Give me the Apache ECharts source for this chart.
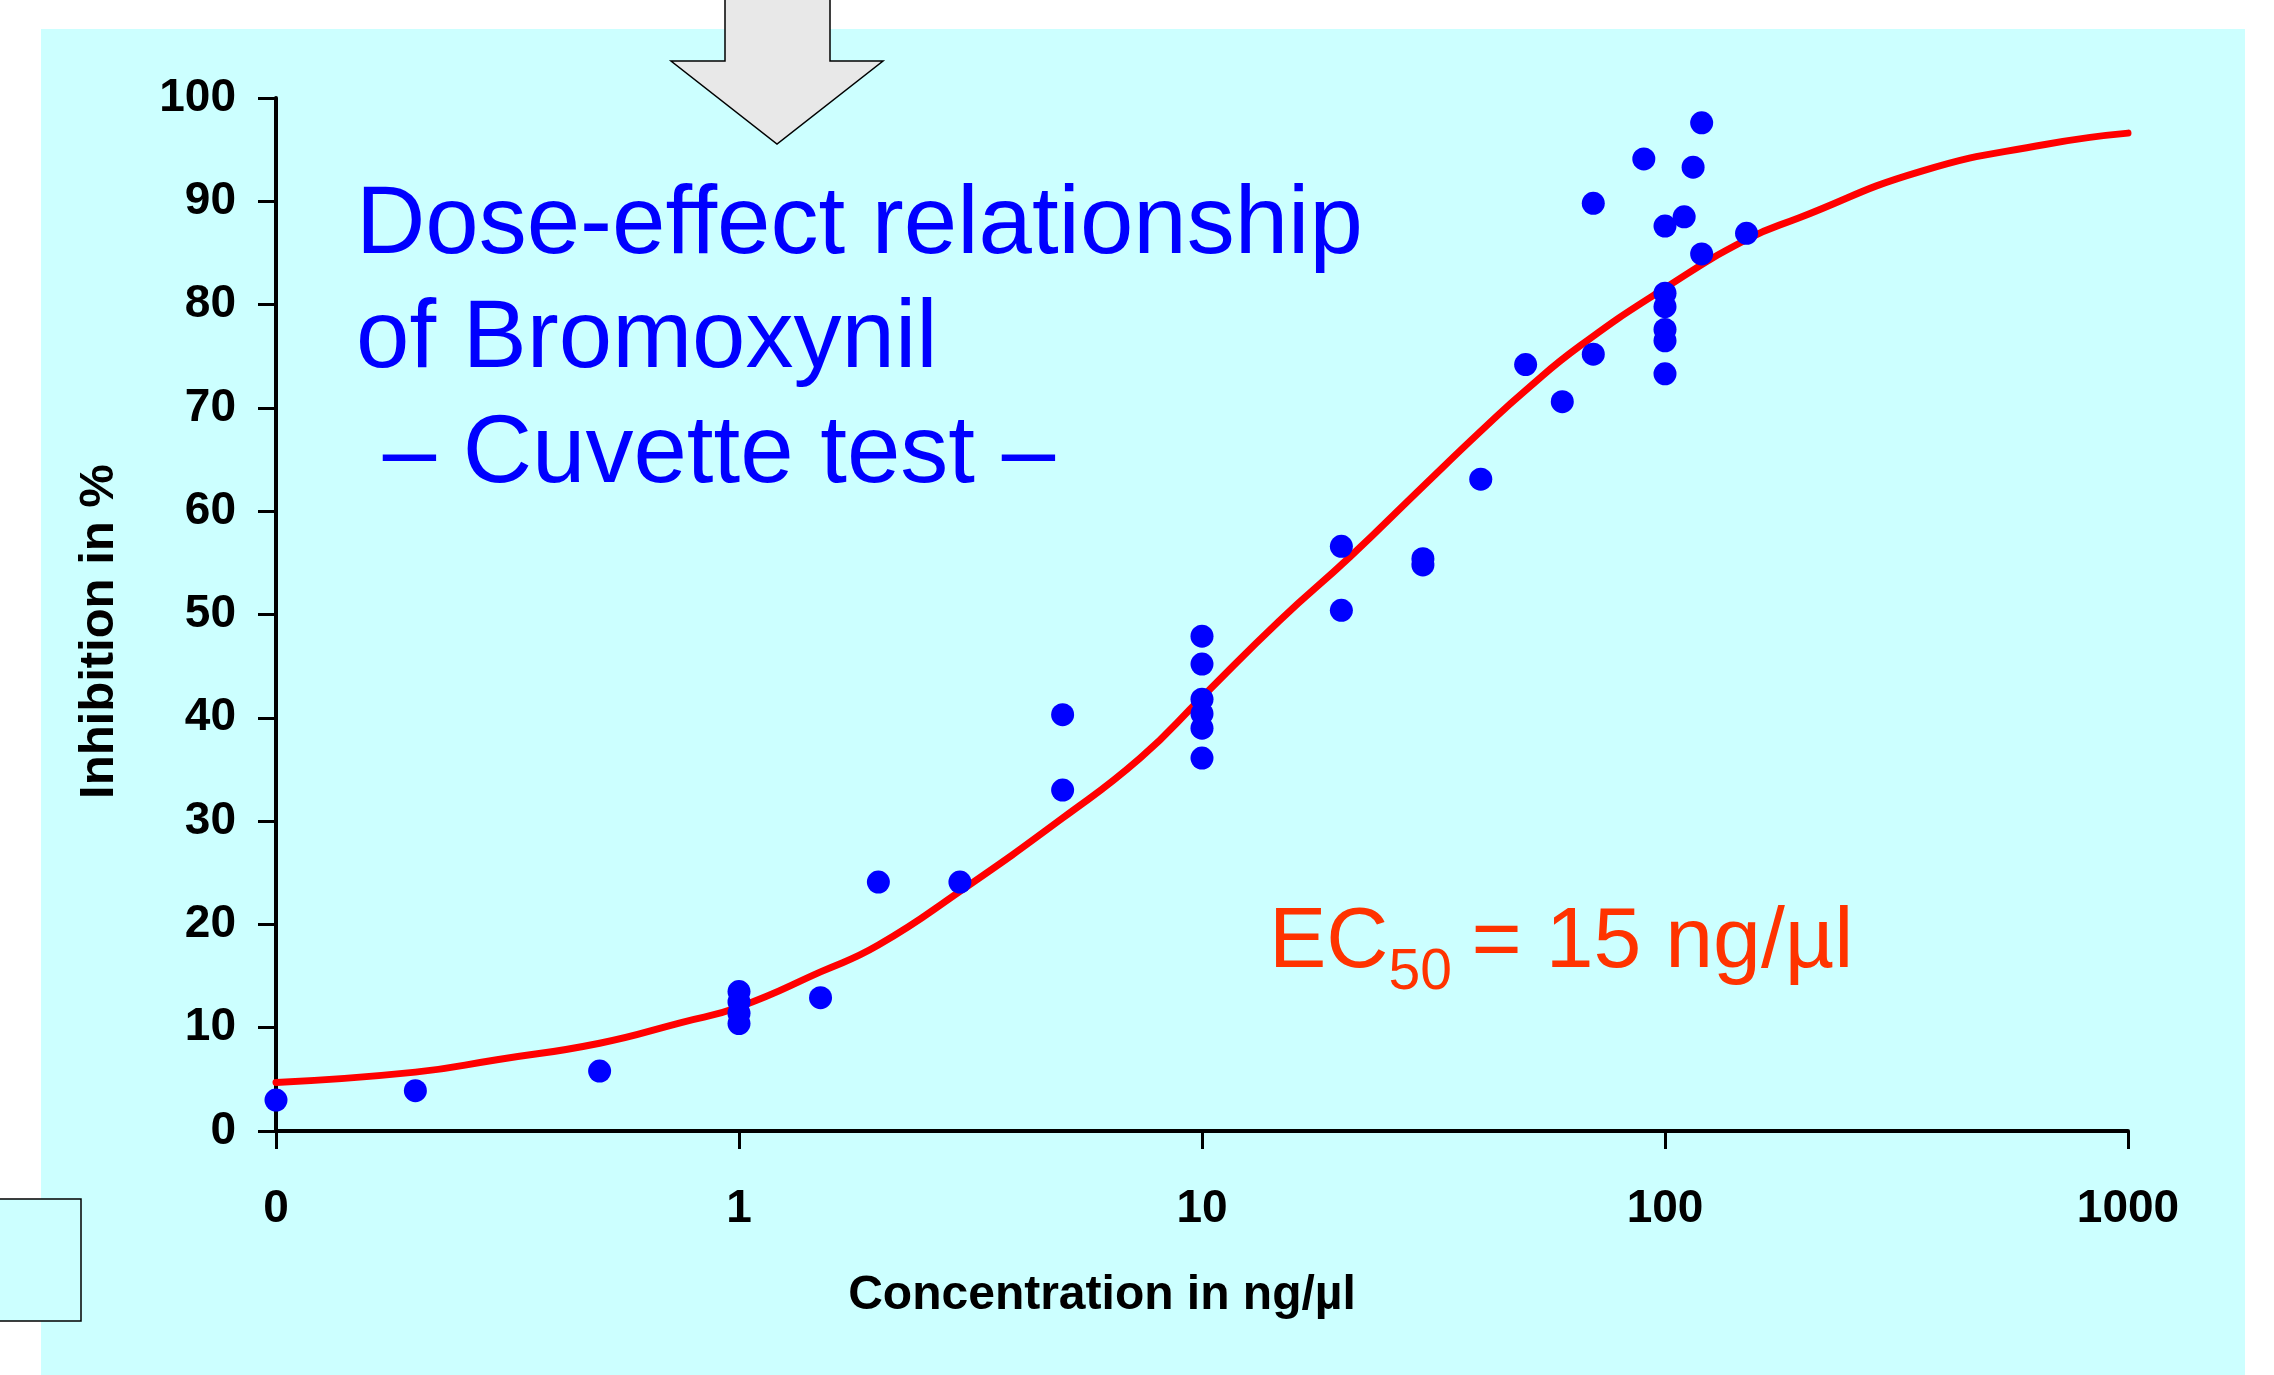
<!DOCTYPE html>
<html>
<head>
<meta charset="utf-8">
<script src="https://cdn.jsdelivr.net/npm/echarts/dist/echarts.min.js"></script>
<style>
html,body{margin:0;padding:0;background:#ffffff;}
#chart{width:2274px;height:1375px;}
</style>
</head>
<body>
<div id="chart"></div>
<script>
// ---- data ----
const xTickValues = [0.1, 1, 10, 100, 1000];
const xTickLabels = ['0', '1', '10', '100', '1000'];
const yTickValues = [0, 10, 20, 30, 40, 50, 60, 70, 80, 90, 100];

// measured points (concentration in ng/µl, inhibition in %)
const measuredConc = [0.1, 0.2, 0.5, 1, 1, 1, 1, 1.5, 2, 3, 5, 5,
  10, 10, 10, 10, 10, 10, 20, 20, 30, 30, 40, 50, 60, 70, 70, 90,
  100, 100, 100, 100, 100, 100, 110, 115, 120, 120, 150];
const measuredInhib = [3.0, 3.9, 5.8, 13.5, 12.5, 11.4, 10.4, 12.9, 24.1, 24.1, 40.3, 33.0,
  47.9, 45.2, 41.8, 40.4, 39.0, 36.1, 56.6, 50.4, 55.4, 54.8, 63.1, 74.2, 70.6, 89.8, 75.2, 94.1,
  87.6, 81.1, 79.8, 77.6, 76.5, 73.3, 88.5, 93.3, 97.6, 84.9, 86.9];

// fitted curve
const curveConc = [0.1, 0.2, 0.3, 0.5, 0.75, 1, 1.5, 2, 3, 5, 7.35, 10, 14.7, 20.9, 30, 41, 50, 65.5, 100, 150, 195, 357, 662, 1000];
const curveInhib = [4.7, 5.7, 6.9, 8.5, 10.5, 12.0, 15.4, 18.0, 23.2, 30.3, 36.1, 42.0, 49.4, 55.6, 62.4, 68.2, 71.7, 76.0, 81.6, 86.3, 88.4, 92.9, 95.5, 96.6];

const titleLines = ['Dose-effect relationship', 'of Bromoxynil', ' \u2013 Cuvette test \u2013'];
const xAxisTitle = 'Concentration in ng/\u00b5l';
const yAxisTitle = 'Inhibition in %';
const ecMain = 'EC';
const ecSub = '50';
const ecRest = '= 15 ng/\u00b5l';

// ---- build options ----
const FONT = '"Liberation Sans", Arial, Helvetica, sans-serif';
const scatterData = measuredConc.map((c, i) => [c, measuredInhib[i]]);
const curveData = curveConc.map((c, i) => [c, curveInhib[i]]);

function xLabel(v) {
  for (let i = 0; i < xTickValues.length; i++) {
    if (Math.abs(Math.log10(xTickValues[i]) - Math.log10(v)) < 1e-6) return xTickLabels[i];
  }
  return '';
}

const chart = echarts.init(document.getElementById('chart'), null, {renderer: 'canvas'});
chart.setOption({
  animation: false,
  backgroundColor: '#ffffff',
  grid: {left: 276, right: 146, top: 98, bottom: 244, containLabel: false},
  xAxis: {
    type: 'log',
    logBase: 10,
    min: xTickValues[0],
    max: xTickValues[xTickValues.length - 1],
    name: xAxisTitle,
    nameLocation: 'middle',
    nameGap: 141,
    nameTextStyle: {fontFamily: FONT, fontSize: 48, fontWeight: 'bold', color: '#000', padding: [0, 200, 0, 0]},
    splitLine: {show: false},
    minorTick: {show: false},
    axisLine: {show: true, lineStyle: {color: '#000', width: 4}},
    axisTick: {show: true, inside: false, length: 18, lineStyle: {color: '#000', width: 3}},
    axisLabel: {fontFamily: FONT, fontSize: 46, fontWeight: 'bold', color: '#000', margin: 55, formatter: xLabel, showMinLabel: true, showMaxLabel: true}
  },
  yAxis: {
    type: 'value',
    min: yTickValues[0],
    max: yTickValues[yTickValues.length - 1],
    interval: 10,
    name: yAxisTitle,
    nameLocation: 'middle',
    nameRotate: 90,
    nameGap: 152,
    nameTextStyle: {fontFamily: FONT, fontSize: 49, fontWeight: 'bold', color: '#000', padding: [0, 34, 0, 0]},
    splitLine: {show: false},
    axisLine: {show: true, lineStyle: {color: '#000', width: 4}},
    axisTick: {show: true, inside: false, length: 18, lineStyle: {color: '#000', width: 3}},
    axisLabel: {fontFamily: FONT, fontSize: 46, fontWeight: 'bold', color: '#000', margin: 40}
  },
  series: [
    {
      type: 'line',
      name: 'fit',
      data: curveData,
      smooth: 0.5,
      showSymbol: false,
      symbol: 'none',
      lineStyle: {color: '#FF0000', width: 7, cap: 'round', join: 'round'},
      z: 3
    },
    {
      type: 'scatter',
      name: 'measured',
      data: scatterData,
      symbol: 'circle',
      symbolSize: 23,
      itemStyle: {color: '#0000FF', opacity: 1},
      z: 5
    }
  ],
  graphic: [
    {
      type: 'rect', z: -10, silent: true,
      shape: {x: 41, y: 29, width: 2204, height: 1360},
      style: {fill: '#CCFFFF'}
    },
    {
      type: 'rect', z: 20, silent: true,
      shape: {x: -3, y: 1199, width: 84, height: 122},
      style: {fill: '#CCFFFF', stroke: '#000', lineWidth: 1.5}
    },
    {
      type: 'polygon', z: 20, silent: true,
      shape: {points: [[725, -5], [830, -5], [830, 61], [883, 61], [777, 144], [671, 61], [725, 61]]},
      style: {fill: '#E8E8E8', stroke: '#000', lineWidth: 1.5}
    },
    {
      type: 'text', z: 20, silent: true,
      left: 356, top: 169,
      style: {
        text: titleLines.join('\n'),
        font: '96px ' + FONT,
        fill: '#0000FF',
        lineHeight: 114.5
      }
    },
    {
      type: 'text', z: 20, silent: true,
      x: 1269, y: 943.7,
      style: {text: ecMain, font: '86px ' + FONT, fill: '#FF3300', align: 'left', verticalAlign: 'middle'}
    },
    {
      type: 'text', z: 20, silent: true,
      x: 1388.5, y: 973.7,
      style: {text: ecSub, font: '57px ' + FONT, fill: '#FF3300', align: 'left', verticalAlign: 'middle'}
    },
    {
      type: 'text', z: 20, silent: true,
      x: 1471.6, y: 943.7,
      style: {text: ecRest, font: '86px ' + FONT, fill: '#FF3300', align: 'left', verticalAlign: 'middle'}
    }
  ]
});
</script>
</body>
</html>
